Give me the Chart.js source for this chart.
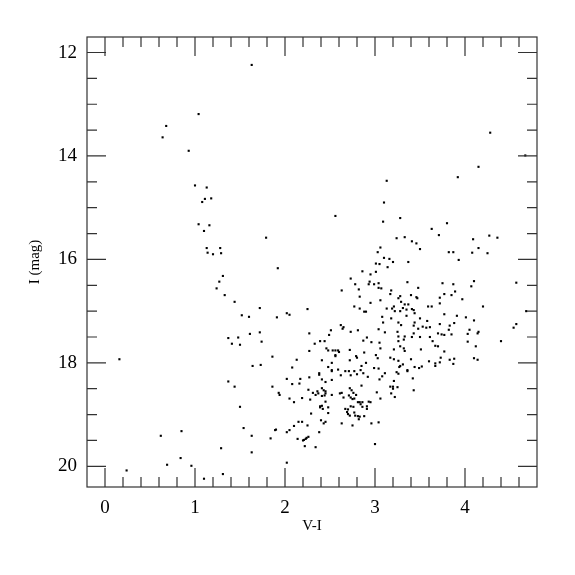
<!DOCTYPE html>
<html>
<head>
<meta charset="utf-8">
<script src="https://cdn.jsdelivr.net/npm/chart.js@4.4.1/dist/chart.umd.min.js"></script>
<style>
  html, body { margin: 0; padding: 0; background: #fff; }
  #wrap { width: 575px; height: 575px; }
</style>
</head>
<body>
<div id="wrap"><canvas id="cmd" width="575" height="575"></canvas></div>
<script>
// V-I colour of each star
const colorVI = [
  1.04,0.68,0.64,0.93,1.00,1.13,1.63,3.13,4.28,4.67,
  4.15,3.92,1.11,1.18,1.08,1.04,1.16,1.10,1.13,1.28,
  1.14,1.20,1.29,1.31,1.27,1.24,1.33,1.44,
  3.10,2.56,3.09,1.79,3.06,3.03,3.10,3.01,3.05,1.92,
  2.86,3.01,2.95,2.73,2.94,3.04,2.78,2.93,2.99,3.04,
  3.07,2.82,2.63,2.83,3.06,2.95,2.77,1.72,3.13,2.83,
  2.25,2.88,2.90,2.02,2.05,1.52,1.60,1.91,3.08,3.09,
  2.62,2.65,2.64,3.04,3.11,2.51,2.73,2.81,2.49,1.61,
  1.72,2.27,2.91,1.48,
  3.28,3.80,3.63,3.71,4.27,4.36,3.24,3.33,3.41,3.46,
  4.09,3.50,4.15,3.82,3.87,4.08,4.25,3.93,3.16,3.20,
  3.37,3.14,3.36,4.10,4.57,3.75,3.87,4.07,3.48,3.18,
  3.17,3.89,3.77,3.85,3.40,3.28,3.26,3.46,3.47,3.72,
  3.97,3.29,3.33,3.37,3.21,3.72,3.59,3.63,3.31,3.19,
  3.35,3.41,3.43,3.22,3.28,3.44,4.20,4.68,3.77,3.35,
  3.91,4.01,3.18,3.50,4.10,3.58,3.26,3.29,3.44,3.43,
  3.72,3.88,3.83,3.53,3.57,3.61,3.48,3.82,4.05,4.57,
  4.54,3.25,3.43,3.70,3.74,3.77,3.85,4.03,4.15,4.14,
  3.26,3.33,3.41,3.50,3.61,
  3.64,3.26,3.32,4.03,4.40,4.12,3.67,3.70,3.28,3.21,
  3.32,3.33,3.51,3.77,3.17,3.21,3.26,3.40,3.73,3.83,
  3.88,4.10,4.14,3.60,3.72,3.67,3.67,3.87,3.28,3.27,
  3.31,3.44,3.49,3.52,3.36,3.36,3.24,3.26,3.42,3.21,
  3.17,3.20,3.20,3.25,3.43,3.18,3.22,
  1.37,1.41,0.16,1.37,1.44,0.85,0.62,1.29,0.84,0.69,
  0.96,0.24,1.31,1.10,
  1.50,1.74,2.33,2.39,2.44,2.87,2.96,3.05,3.06,2.46,
  2.48,2.27,2.53,2.56,2.59,2.60,2.72,2.88,2.56,2.56,
  2.79,2.80,3.01,3.03,1.86,2.13,2.41,2.72,2.90,2.52,
  2.85,1.64,1.73,2.08,2.48,2.52,2.52,2.59,2.38,2.38,
  2.62,2.67,2.71,2.73,2.77,2.80,2.84,2.87,2.92,2.99,
  3.04,3.11,3.08,3.05,2.27,2.17,2.02,2.08,2.16,1.86,
  2.41,2.52,2.45,2.85,2.26,2.31,2.36,2.37,2.41,2.43,
  2.45,2.45,2.41,2.34,2.44,2.52,2.61,2.63,2.72,2.74,
  2.76,2.71,2.79,1.93,1.94,2.05,2.10,2.19,2.28,2.45,
  2.39,2.39,2.41,2.48,2.42,2.48,2.29,2.65,2.73,2.75,
  2.77,2.81,2.83,2.86,2.93,2.95,2.84,2.86,2.91,2.91,
  2.73,2.67,2.70,2.76,2.69,2.70,2.72,2.77,2.78,2.81,
  2.83,2.82,2.88,2.96,3.04,2.75,2.63,2.40,2.45,2.43,
  2.19,2.15,2.25,2.10,2.05,2.02,1.90,1.89,1.84,1.54,
  1.63,1.50,1.63,2.02,2.14,2.20,2.21,2.23,2.24,2.26,
  2.22,2.34,2.38,3.00,3.06,3.02
];

// I magnitude of each star (same order)
const magI = [
  13.19,13.42,13.64,13.90,14.57,14.61,12.24,14.48,13.55,13.99,
  14.21,14.41,14.83,14.82,14.89,15.32,15.34,15.45,15.78,15.78,
  15.87,15.90,15.88,16.32,16.43,16.56,16.69,16.82,
  14.90,15.16,15.27,15.58,15.77,15.86,15.97,16.08,16.09,16.17,
  16.23,16.24,16.29,16.37,16.43,16.46,16.48,16.48,16.48,16.55,
  16.56,16.58,16.60,16.72,16.79,16.84,16.91,16.94,16.95,16.95,
  16.96,17.01,17.01,17.04,17.07,17.08,17.11,17.12,17.11,17.22,
  17.27,17.31,17.34,17.35,17.41,17.37,17.40,17.37,17.46,17.44,
  17.41,17.43,17.51,17.51,
  15.20,15.30,15.41,15.53,15.54,15.58,15.59,15.57,15.65,15.69,
  15.61,15.80,15.78,15.86,15.86,15.87,15.88,16.01,15.99,16.05,
  16.05,16.15,16.44,16.42,16.45,16.46,16.48,16.52,16.55,16.60,
  16.67,16.62,16.67,16.69,16.69,16.71,16.75,16.73,16.75,16.74,
  16.77,16.82,16.87,16.87,16.91,16.85,16.91,16.91,16.94,16.95,
  16.97,16.96,16.98,17.00,17.00,17.04,16.91,17.00,17.06,17.09,
  17.09,17.12,17.14,17.14,17.18,17.19,17.22,17.27,17.22,17.28,
  17.25,17.23,17.28,17.30,17.32,17.31,17.34,17.36,17.36,17.25,
  17.32,17.40,17.43,17.43,17.45,17.46,17.45,17.44,17.40,17.43,
  17.49,17.49,17.50,17.50,17.50,
  17.58,17.58,17.55,17.59,17.58,17.68,17.67,17.68,17.68,17.74,
  17.72,17.77,17.74,17.78,17.90,17.93,17.96,17.93,17.90,17.94,
  17.92,17.91,17.94,17.97,17.99,18.01,18.06,18.02,18.06,18.08,
  18.03,18.08,18.10,18.07,18.14,18.16,18.18,18.21,18.30,18.35,
  18.46,18.46,18.50,18.47,18.53,18.59,18.66,
  17.52,17.63,17.93,18.36,18.46,19.32,19.41,19.65,19.84,19.97,
  19.99,20.08,20.15,20.24,
  17.65,17.59,17.63,17.58,17.58,17.57,17.60,17.61,17.72,17.72,
  17.76,17.77,17.76,17.76,17.76,17.79,17.75,17.80,17.85,17.87,
  17.87,17.90,17.85,17.91,17.88,17.94,17.95,17.95,18.00,18.00,
  18.06,18.06,18.04,18.09,18.08,18.14,18.16,18.13,18.20,18.23,
  18.24,18.16,18.16,18.24,18.16,18.22,18.14,18.20,18.27,18.10,
  18.11,18.20,18.26,18.32,18.28,18.31,18.31,18.41,18.40,18.46,
  18.32,18.33,18.37,18.44,18.52,18.58,18.55,18.59,18.49,18.53,
  18.55,18.59,18.64,18.62,18.63,18.62,18.59,18.58,18.49,18.53,
  18.58,18.63,18.62,18.58,18.62,18.69,18.76,18.68,18.71,18.75,
  18.84,18.86,18.83,18.86,18.89,18.97,18.98,18.67,18.67,18.70,
  18.69,18.76,18.76,18.76,18.75,18.76,18.80,18.85,18.84,18.89,
  18.84,18.89,18.90,18.85,18.95,18.99,19.02,18.96,19.02,19.03,
  19.04,19.09,19.03,19.17,19.15,19.21,19.17,19.11,19.14,19.17,
  19.14,19.14,19.21,19.22,19.30,19.34,19.29,19.30,19.46,19.26,
  19.41,18.85,19.73,19.93,19.47,19.50,19.49,19.47,19.45,19.43,
  19.61,19.63,19.34,19.57,18.69,18.57
];

const xTickLabels = [0, 1, 2, 3, 4];
const yTickLabels = [12, 14, 16, 18, 20];

const points = colorVI.map((v, i) => ({ x: v, y: magI[i] }));

// box round the plot with inward ticks on every side
const frameTicks = {
  id: 'frameTicks',
  afterDatasetsDraw(chart) {
    const { ctx, chartArea: a, scales: { x, y } } = chart;
    ctx.save();
    ctx.strokeStyle = '#333';
    ctx.lineWidth = 1.2;
    ctx.beginPath();
    for (let i = 0; i <= 23; i++) {
      const px = x.getPixelForValue(i * 0.2);
      const len = i % 5 === 0 ? 19 : 10;
      ctx.moveTo(px, a.bottom); ctx.lineTo(px, a.bottom - len);
      ctx.moveTo(px, a.top); ctx.lineTo(px, a.top + len);
    }
    for (let k = 0; k <= 16; k++) {
      const v = 12 + k * 0.5;
      const py = y.getPixelForValue(v);
      const len = k % 4 === 0 ? 19 : 10;
      ctx.moveTo(a.left, py); ctx.lineTo(a.left + len, py);
      ctx.moveTo(a.right, py); ctx.lineTo(a.right - len, py);
    }
    ctx.stroke();
    ctx.strokeRect(a.left, a.top, a.right - a.left, a.bottom - a.top);
    ctx.restore();
  }
};

const serif = 'Liberation Serif';

new Chart(document.getElementById('cmd'), {
  type: 'scatter',
  data: {
    datasets: [{
      data: points,
      pointStyle: 'rect',
      pointRadius: 1.5,
      borderWidth: 0,
      backgroundColor: '#000'
    }]
  },
  options: {
    responsive: false,
    animation: false,
    layout: { padding: { left: 0, top: 37, right: 38, bottom: 0 } },
    plugins: { legend: { display: false }, tooltip: { enabled: false } },
    scales: {
      x: {
        type: 'linear',
        min: -0.2,
        max: 4.8,
        grid: { display: false, drawTicks: false },
        border: { display: false },
        afterBuildTicks: s => { s.ticks = xTickLabels.map(v => ({ value: v })); },
        afterFit: s => { s.height = 88; },
        ticks: { color: '#000', padding: 10, font: { family: serif, size: 19 } },
        title: { display: true, text: 'V-I', color: '#000', padding: { top: 40, bottom: 40 },
                 font: { family: serif, size: 15 } }
      },
      y: {
        type: 'linear',
        reverse: true,
        min: 11.7,
        max: 20.4,
        grid: { display: false, drawTicks: false },
        border: { display: false },
        afterBuildTicks: s => { s.ticks = yTickLabels.map(v => ({ value: v })); },
        afterFit: s => { s.width = 87; },
        ticks: { color: '#000', padding: 10, font: { family: serif, size: 19 } },
        title: { display: true, text: 'I (mag)', color: '#000', padding: { top: 26, bottom: 26 },
                 font: { family: serif, size: 15 } }
      }
    }
  },
  plugins: [frameTicks]
});
</script>
</body>
</html>
